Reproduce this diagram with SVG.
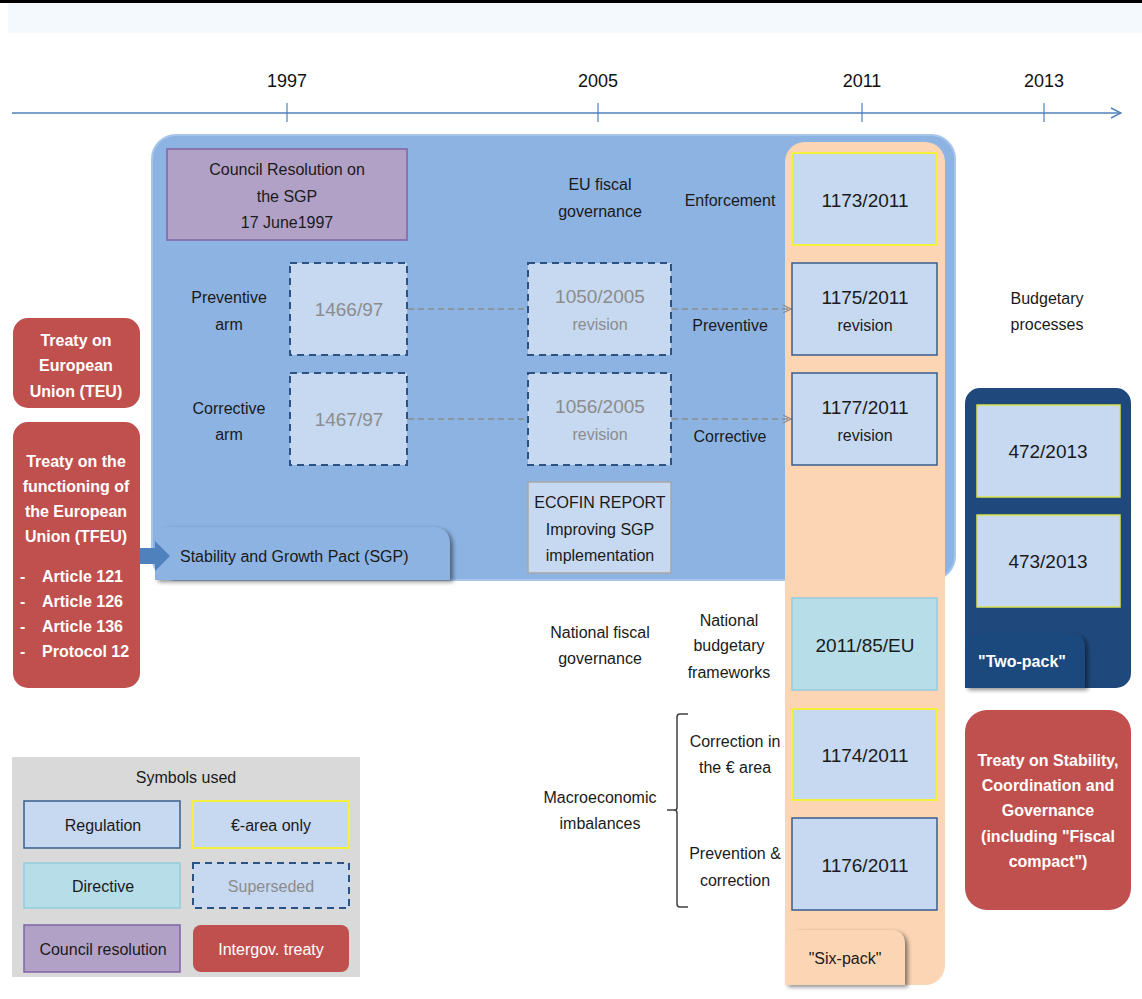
<svg xmlns="http://www.w3.org/2000/svg" width="1142" height="999" viewBox="0 0 1142 999">
<defs>
<style>
text{font-family:"Liberation Sans",Arial,sans-serif;font-size:16px;fill:#1a1a1a;text-anchor:middle}
.yr{font-size:18px;fill:#111}
.w{fill:#fff;font-weight:bold}
.gr{fill:#8c8c8c}
.l{text-anchor:start}
.reg{fill:#c6d9f1;stroke:#385d8a;stroke-width:1.5}
.eur{fill:#c6d9f1;stroke:#f5f03c;stroke-width:2}
.dir{fill:#b7dde8;stroke:#93cddd;stroke-width:1.5}
.sup{fill:#c6d9f1;stroke:#2c5282;stroke-width:2;stroke-dasharray:7 5}
.cr{fill:#b2a1c7;stroke:#8064a2;stroke-width:1.5}
.tr{fill:#c0504d}
.dash{stroke:#8c8c8c;stroke-width:1.5;stroke-dasharray:6 4;fill:none}
</style>
<marker id="oa" viewBox="0 0 10 10" refX="9" refY="5" markerWidth="10" markerHeight="10" markerUnits="userSpaceOnUse" orient="auto">
<path d="M1,1 L9,5 L1,9" fill="none" stroke="#8c8c8c" stroke-width="1.3"/>
</marker>
<marker id="ta" viewBox="0 0 12 12" refX="11" refY="6" markerWidth="12" markerHeight="12" markerUnits="userSpaceOnUse" orient="auto">
<path d="M1,1 L11,6 L1,11" fill="none" stroke="#4f81bd" stroke-width="1.5"/>
</marker>
<filter id="sh" x="-10%" y="-10%" width="130%" height="130%">
<feDropShadow dx="3" dy="2" stdDeviation="2" flood-color="#000" flood-opacity="0.45"/>
</filter>
</defs>
<rect width="1142" height="999" fill="#fff"/>
<rect x="0" y="0" width="1142" height="3" fill="#000"/>
<rect x="8" y="3" width="1134" height="30" fill="#f4f9fe"/>

<g id="timeline">
<line x1="12" y1="113" x2="1121" y2="113" stroke="#4f81bd" stroke-width="1.5" marker-end="url(#ta)"/>
<g stroke="#4f81bd" stroke-width="1.2">
<line x1="287" y1="103" x2="287" y2="122"/>
<line x1="598" y1="103" x2="598" y2="122"/>
<line x1="862" y1="103" x2="862" y2="122"/>
<line x1="1044" y1="103" x2="1044" y2="122"/>
</g>
<text class="yr" x="287" y="87">1997</text>
<text class="yr" x="598" y="87">2005</text>
<text class="yr" x="862" y="87">2011</text>
<text class="yr" x="1044" y="87">2013</text>
</g>

<g id="sgp">
<rect x="152" y="135" width="803" height="445" rx="24" fill="#8db3e2" stroke="#a7c4ea" stroke-width="2"/>
<path d="M155,580 L155,540 Q155,527 168,527 L432,527 Q450,527 450,545 L450,580 Z" fill="#8db3e2" filter="url(#sh)"/>
<text class="l" x="180" y="562">Stability and Growth Pact (SGP)</text>
</g>

<g id="sixpack">
<rect x="785" y="142" width="160" height="843" rx="20" fill="#fcd5b5"/>
<path d="M785,985 L785,945 Q785,930 800,930 L890,930 Q905,930 905,945 L905,985 Z" fill="#fcd5b5" filter="url(#sh)"/>
<text x="845" y="964">"Six-pack"</text>
</g>

<g id="council-resolution">
<rect class="cr" x="167" y="149" width="240" height="91"/>
<text x="287" y="175">Council Resolution on</text>
<text x="287" y="202">the SGP</text>
<text x="287" y="228">17 June1997</text>
</g>

<g id="labels">
<text x="600" y="190">EU fiscal</text>
<text x="600" y="217">governance</text>
<text x="730" y="206">Enforcement</text>
<text x="229" y="303">Preventive</text>
<text x="229" y="330">arm</text>
<text x="229" y="414">Corrective</text>
<text x="229" y="440">arm</text>
<text x="730" y="331">Preventive</text>
<text x="730" y="442">Corrective</text>
<text x="600" y="638">National fiscal</text>
<text x="600" y="664">governance</text>
<text x="729" y="626">National</text>
<text x="729" y="651">budgetary</text>
<text x="729" y="678">frameworks</text>
<text x="600" y="803">Macroeconomic</text>
<text x="600" y="829">imbalances</text>
<text x="735" y="747">Correction in</text>
<text x="735" y="773">the € area</text>
<text x="735" y="859">Prevention &amp;</text>
<text x="735" y="886">correction</text>
<text x="1047" y="304">Budgetary</text>
<text x="1047" y="330">processes</text>
</g>

<g id="connectors">
<line class="dash" x1="408" y1="309" x2="527" y2="309"/>
<line class="dash" x1="408" y1="419" x2="527" y2="419"/>
<line class="dash" x1="672" y1="309" x2="791" y2="309" marker-end="url(#oa)"/>
<line class="dash" x1="672" y1="419" x2="791" y2="419" marker-end="url(#oa)"/>
<path d="M688,714 L680,714 Q677,714 677,717 L677,808 Q677,810 674,810 L667,810 M674,810 Q677,810 677,813 L677,904 Q677,907 680,907 L688,907" fill="none" stroke="#404040" stroke-width="1.5"/>
<path d="M133,548 L155,548 L155,541 L170,556 L155,571 L155,564 L133,564 Z" fill="#4f81bd"/>
</g>

<g id="r1466"><rect class="sup" x="290" y="263" width="117" height="92"/><text class="gr" x="349" y="316" style="font-size:19px">1466/97</text></g>
<g id="r1467"><rect class="sup" x="290" y="373" width="117" height="92"/><text class="gr" x="349" y="426" style="font-size:19px">1467/97</text></g>
<g id="r1050"><rect class="sup" x="528" y="263" width="143" height="92"/><text class="gr" x="600" y="303" style="font-size:19px">1050/2005</text><text class="gr" x="600" y="330">revision</text></g>
<g id="r1056"><rect class="sup" x="528" y="373" width="143" height="92"/><text class="gr" x="600" y="413" style="font-size:19px">1056/2005</text><text class="gr" x="600" y="440">revision</text></g>
<g id="ecofin"><rect x="528" y="482" width="143" height="91" fill="#c6d9f1" stroke="#a6a6a6" stroke-width="1.5"/><text x="600" y="508">ECOFIN REPORT</text><text x="600" y="535">Improving SGP</text><text x="600" y="561">implementation</text></g>

<g id="r1173"><rect class="eur" x="792" y="153" width="145" height="92"/><text x="865" y="207" style="font-size:19px">1173/2011</text></g>
<g id="r1175"><rect class="reg" x="792" y="263" width="145" height="92"/><text x="865" y="304" style="font-size:19px">1175/2011</text><text x="865" y="331">revision</text></g>
<g id="r1177"><rect class="reg" x="792" y="373" width="145" height="92"/><text x="865" y="414" style="font-size:19px">1177/2011</text><text x="865" y="441">revision</text></g>
<g id="d2011"><rect class="dir" x="792" y="598" width="145" height="92"/><text x="865" y="652" style="font-size:19px">2011/85/EU</text></g>
<g id="r1174"><rect class="eur" x="792" y="709" width="145" height="91"/><text x="865" y="762" style="font-size:19px">1174/2011</text></g>
<g id="r1176"><rect class="reg" x="792" y="818" width="145" height="92"/><text x="865" y="872" style="font-size:19px">1176/2011</text></g>

<g id="teu"><rect class="tr" x="13" y="318" width="127" height="90" rx="15"/>
<text class="w" x="76" y="346">Treaty on</text><text class="w" x="76" y="371">European</text><text class="w" x="76" y="397">Union (TEU)</text></g>
<g id="tfeu"><rect class="tr" x="13" y="422" width="127" height="266" rx="15"/>
<text class="w" x="76" y="467">Treaty on the</text><text class="w" x="76" y="492">functioning of</text><text class="w" x="76" y="517">the European</text><text class="w" x="76" y="542">Union (TFEU)</text>
<text class="w l" x="20" y="582">-</text><text class="w l" x="42" y="582">Article 121</text>
<text class="w l" x="20" y="607">-</text><text class="w l" x="42" y="607">Article 126</text>
<text class="w l" x="20" y="632">-</text><text class="w l" x="42" y="632">Article 136</text>
<text class="w l" x="20" y="657">-</text><text class="w l" x="42" y="657">Protocol 12</text></g>

<g id="twopack">
<rect x="965" y="388" width="166" height="300" rx="15" fill="#1f497d"/>
<rect class="eur" x="977" y="405" width="143" height="92" style="stroke:#d9e04a;stroke-width:1.5"/>
<text x="1048" y="458" style="font-size:19px">472/2013</text>
<rect class="eur" x="977" y="515" width="143" height="92" style="stroke:#d9e04a;stroke-width:1.5"/>
<text x="1048" y="568" style="font-size:19px">473/2013</text>
<path d="M965,688 L965,648 Q965,633 980,633 L1070,633 Q1085,633 1085,648 L1085,688 Z" fill="#1f497d" filter="url(#sh)"/>
<text class="w" x="1022" y="667">"Two-pack"</text>
</g>

<g id="tscg"><rect class="tr" x="965" y="710" width="166" height="200" rx="22"/>
<text class="w" x="1048" y="766">Treaty on Stability,</text><text class="w" x="1048" y="791">Coordination and</text><text class="w" x="1048" y="816">Governance</text><text class="w" x="1048" y="842">(including "Fiscal</text><text class="w" x="1048" y="867">compact")</text></g>

<g id="legend">
<rect x="12" y="757" width="348" height="220" fill="#d9d9d9"/>
<text x="186" y="783">Symbols used</text>
<rect class="reg" x="24" y="801" width="156" height="47"/><text x="103" y="831">Regulation</text>
<rect class="eur" x="193" y="801" width="156" height="47"/><text x="271" y="831">€-area only</text>
<rect class="dir" x="24" y="863" width="156" height="45"/><text x="103" y="892">Directive</text>
<rect class="sup" x="193" y="863" width="156" height="45"/><text class="gr" x="271" y="892">Superseded</text>
<rect class="cr" x="24" y="925" width="156" height="47"/><text x="103" y="955">Council resolution</text>
<rect class="tr" x="193" y="925" width="156" height="47" rx="8"/><text class="w" x="271" y="955" style="font-weight:normal">Intergov. treaty</text>
</g>
</svg>
